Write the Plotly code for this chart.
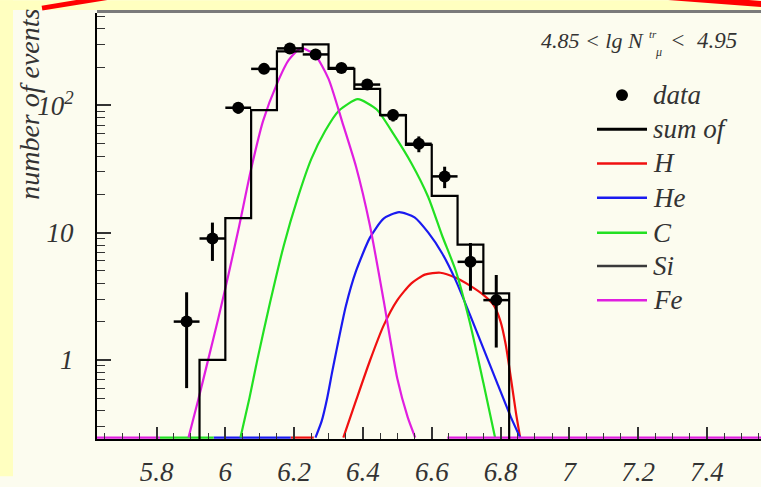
import plotly.graph_objects as go

# ---------------- data ----------------
data_x = [5.8875, 5.9625, 6.0375, 6.1125, 6.1875, 6.2625, 6.3375, 6.4125,
          6.4875, 6.5625, 6.6375, 6.7125, 6.7875]
data_y = [2.0, 9.0, 96, 194, 281, 252, 197, 146, 84, 50, 27.7, 5.9, 2.95]
data_err = [1.4, 3.0, 9.8, 13.9, 16.8, 15.9, 14.0, 12.1, 9.2, 7.1, 5.3, 2.4, 1.7]
bin_half = 0.0375

hist_edges = [5.925, 6.0, 6.075, 6.15, 6.225, 6.3, 6.375, 6.45, 6.525,
              6.6, 6.675, 6.75, 6.825]
hist_vals = [1.0, 13, 92, 266, 302, 194, 135, 84, 49, 19.5, 8.05, 3.33]

FLOOR = 0.245  # curves clipped at the bottom of the frame

fe_x = [5.893, 5.92, 5.95, 5.98, 6.01, 6.04, 6.075, 6.11, 6.15, 6.185,
        6.22, 6.26, 6.3, 6.34, 6.38, 6.42, 6.46, 6.5, 6.53, 6.552]
fe_y = [FLOOR, 0.47, 1.0, 2.14, 4.8, 11.2, 31.6, 76, 148, 229,
        282, 251, 162, 74, 33, 11.5, 2.95, 0.71, 0.355, FLOOR]
fe_floor = [[5.627, 5.81], [6.645, 7.557]]

c_x = [6.044, 6.07, 6.093, 6.13, 6.17, 6.21, 6.25, 6.29, 6.33, 6.385,
       6.44, 6.49, 6.54, 6.59, 6.63, 6.67, 6.71, 6.75, 6.784]
c_y = [FLOOR, 0.5, 1.0, 2.82, 7.94, 18.6, 38, 63, 91, 112,
       93, 59, 35.5, 19, 9.5, 5.0, 2.0, 0.66, FLOOR]
c_floor = [[5.81, 5.966]]

he_x = [6.262, 6.28, 6.296, 6.31, 6.325, 6.35, 6.38, 6.42, 6.46, 6.505,
        6.55, 6.59, 6.63, 6.67, 6.71, 6.75, 6.79, 6.83, 6.857]
he_y = [FLOOR, 0.33, 0.5, 0.79, 1.26, 2.63, 5.0, 9.1, 12.9, 14.5,
        13.2, 10, 6.9, 4.2, 2.3, 1.23, 0.66, 0.355, FLOOR]
he_floor = [[5.966, 6.19]]

h_x = [6.343, 6.38, 6.42, 6.46, 6.5, 6.54, 6.58, 6.625, 6.67, 6.71,
       6.75, 6.78, 6.8, 6.815, 6.83, 6.845, 6.857]
h_y = [FLOOR, 0.48, 0.98, 1.86, 2.95, 3.98, 4.68, 4.84, 4.42, 3.85,
       3.24, 2.69, 2.0, 1.32, 0.72, 0.38, FLOOR]
h_floor = [[6.19, 6.257]]

si_x = []
si_y = []

x_tick_vals = [5.8, 6.0, 6.2, 6.4, 6.6, 6.8, 7.0, 7.2, 7.4]
x_tick_text = ["5.8", "6", "6.2", "6.4", "6.6", "6.8", "7", "7.2", "7.4"]
y_tick_vals = [1, 10, 100]
y_tick_text = ["1", "10", "10<sup>2</sup>"]
y_minor_vals = [0.3, 0.4, 0.5, 0.6, 0.7, 0.8, 0.9,
                2, 3, 4, 5, 6, 7, 8, 9,
                20, 30, 40, 50, 60, 70, 80, 90,
                200, 300, 400, 500]

legend_names = ["data", "sum of", "H", "He", "C", "Si", "Fe"]

# ---------------- styles ----------------
COL_H = "#f01010"
COL_HE = "#1a1af0"
COL_C = "#22e022"
COL_SI = "#3a3a3a"
COL_FE = "#e01ee0"
TXT = "#333333"
FONT = "Liberation Serif, Times New Roman, serif"

W, H = 761, 487
L, R, T, B = 97, 761, 13, 449


def px_x(px):
    return (px - L) / (R - L)


def px_y(py):
    return (B - py) / (B - T)


def with_floor(xs, ys, floors):
    ox, oy = list(xs), list(ys)
    for a, b in floors:
        ox += [None, a, b]
        oy += [None, FLOOR, FLOOR]
    return ox, oy


fig = go.Figure()

for xs, ys, fl, col in [(h_x, h_y, h_floor, COL_H),
                        (he_x, he_y, he_floor, COL_HE),
                        (c_x, c_y, c_floor, COL_C),
                        (si_x, si_y, [], COL_SI),
                        (fe_x, fe_y, fe_floor, COL_FE)]:
    ox, oy = with_floor(xs, ys, fl)
    fig.add_trace(go.Scatter(x=ox, y=oy, mode="lines",
                             line=dict(color=col, width=2.2, shape="spline",
                                       smoothing=0.6),
                             connectgaps=False, showlegend=False,
                             hoverinfo="skip"))

# histogram "sum of" as step line
hx = [hist_edges[0]] + hist_edges
hy = [0.2] + hist_vals + [0.2]
fig.add_trace(go.Scatter(x=hx, y=hy, mode="lines", line_shape="hv",
                         line=dict(color="black", width=2.2),
                         showlegend=False, hoverinfo="skip"))

# data points
fig.add_trace(go.Scatter(
    x=data_x, y=data_y, mode="markers",
    marker=dict(color="black", size=12),
    error_y=dict(type="data", array=data_err, color="black",
                 thickness=3, width=0),
    error_x=dict(type="constant", value=bin_half, color="black",
                 thickness=2.5, width=0),
    showlegend=False))

shapes = []
# background pieces
shapes.append(dict(type="rect", xref="paper", yref="paper",
                   x0=px_x(0), x1=px_x(13), y0=px_y(H), y1=px_y(0),
                   fillcolor="#ffffc0", line=dict(width=0), layer="below"))
shapes.append(dict(type="rect", xref="paper", yref="paper",
                   x0=px_x(0), x1=px_x(W), y0=px_y(10), y1=px_y(0),
                   fillcolor="#ffffc0", line=dict(width=0), layer="below"))
# top frame line
shapes.append(dict(type="line", xref="paper", yref="paper",
                   x0=px_x(97), x1=px_x(W), y0=px_y(11.5), y1=px_y(11.5),
                   line=dict(color="#7a7a7a", width=3)))
# red decorative strokes
shapes.append(dict(type="line", xref="paper", yref="paper",
                   x0=px_x(42), x1=px_x(108), y0=px_y(8), y1=px_y(-3),
                   line=dict(color="#ff0000", width=5)))
shapes.append(dict(type="line", xref="paper", yref="paper",
                   x0=px_x(660), x1=px_x(765), y0=px_y(-4), y1=px_y(4),
                   line=dict(color="#ff0000", width=6)))

# manual legend
leg_rows = [97, 132, 167, 202, 238, 272, 307]
leg_cols = [None, "black", COL_H, COL_HE, COL_C, COL_SI, COL_FE]
annotations = []
for name, row, col in zip(legend_names, leg_rows, leg_cols):
    if col is None:
        shapes.append(dict(type="circle", xref="paper", yref="paper",
                           x0=px_x(616), x1=px_x(628),
                           y0=px_y(row + 6), y1=px_y(row - 6),
                           fillcolor="black", line=dict(color="black", width=0)))
    else:
        shapes.append(dict(type="line", xref="paper", yref="paper",
                           x0=px_x(597), x1=px_x(647),
                           y0=px_y(row), y1=px_y(row),
                           line=dict(color=col, width=3 if col == "black" else 2.5)))
    annotations.append(dict(text=name, xref="paper", yref="paper",
                            x=px_x(651), y=px_y(row), xanchor="left",
                            yanchor="middle", showarrow=False,
                            font=dict(family=FONT, size=27, color=TXT,
                                      style="italic")))

# header text 4.85 < lg N^tr_mu < 4.95
annotations.append(dict(text="4.85 < lg N", xref="paper", yref="paper",
                        x=px_x(646), y=px_y(41), xanchor="right",
                        yanchor="middle", showarrow=False,
                        font=dict(family=FONT, size=22, color=TXT,
                                  style="italic")))
annotations.append(dict(text="tr", xref="paper", yref="paper",
                        x=px_x(653), y=px_y(35), xanchor="center",
                        yanchor="middle", showarrow=False,
                        font=dict(family=FONT, size=11, color=TXT,
                                  style="italic")))
annotations.append(dict(text="μ", xref="paper", yref="paper",
                        x=px_x(658), y=px_y(53), xanchor="center",
                        yanchor="middle", showarrow=False,
                        font=dict(family=FONT, size=12, color=TXT,
                                  style="italic")))
annotations.append(dict(text="<  4.95", xref="paper", yref="paper",
                        x=px_x(668), y=px_y(41), xanchor="left",
                        yanchor="middle", showarrow=False,
                        font=dict(family=FONT, size=23, color=TXT,
                                  style="italic")))
# y axis title
annotations.append(dict(text="number of events", xref="paper", yref="paper",
                        x=px_x(30), y=px_y(107), xanchor="center",
                        yanchor="middle", textangle=-90, showarrow=False,
                        font=dict(family=FONT, size=28, color=TXT,
                                  style="italic")))

fig.update_layout(
    width=W, height=H,
    margin=dict(l=L, r=W - R, t=T, b=H - B, pad=0),
    paper_bgcolor="#fcfcef",
    plot_bgcolor="#fcfcef",
    showlegend=False,
    shapes=shapes,
    annotations=annotations,
    xaxis=dict(range=[5.627, 7.557], showgrid=False, zeroline=False,
               showline=True, linecolor="black", linewidth=2,
               ticks="inside", ticklen=12, tickwidth=1.5, tickcolor=TXT,
               tickmode="array", tickvals=x_tick_vals, ticktext=x_tick_text,
               ticklabelstandoff=8,
               tickfont=dict(family=FONT, size=27, color=TXT, style="italic"),
               minor=dict(dtick=0.05, tick0=5.8, ticks="inside", ticklen=6,
                          tickcolor=TXT, tickwidth=1.2)),
    yaxis=dict(type="log", range=[-0.622, 2.727], showgrid=False,
               zeroline=False, showline=True, linecolor="black", linewidth=2,
               ticks="inside", ticklen=14, tickwidth=1.5, tickcolor=TXT,
               tickmode="array", tickvals=y_tick_vals, ticktext=y_tick_text,
               ticklabelstandoff=16,
               tickfont=dict(family=FONT, size=27, color=TXT, style="italic"),
               minor=dict(tickmode="array", tickvals=y_minor_vals,
                          ticks="inside", ticklen=8, tickcolor=TXT,
                          tickwidth=1.2)),
)

fig.write_html(
    "out.html",
    config={"displayModeBar": False},
    post_script="document.body.style.margin='0px';"
                "document.body.style.padding='0px';"
                "document.body.style.overflow='hidden';",
)
